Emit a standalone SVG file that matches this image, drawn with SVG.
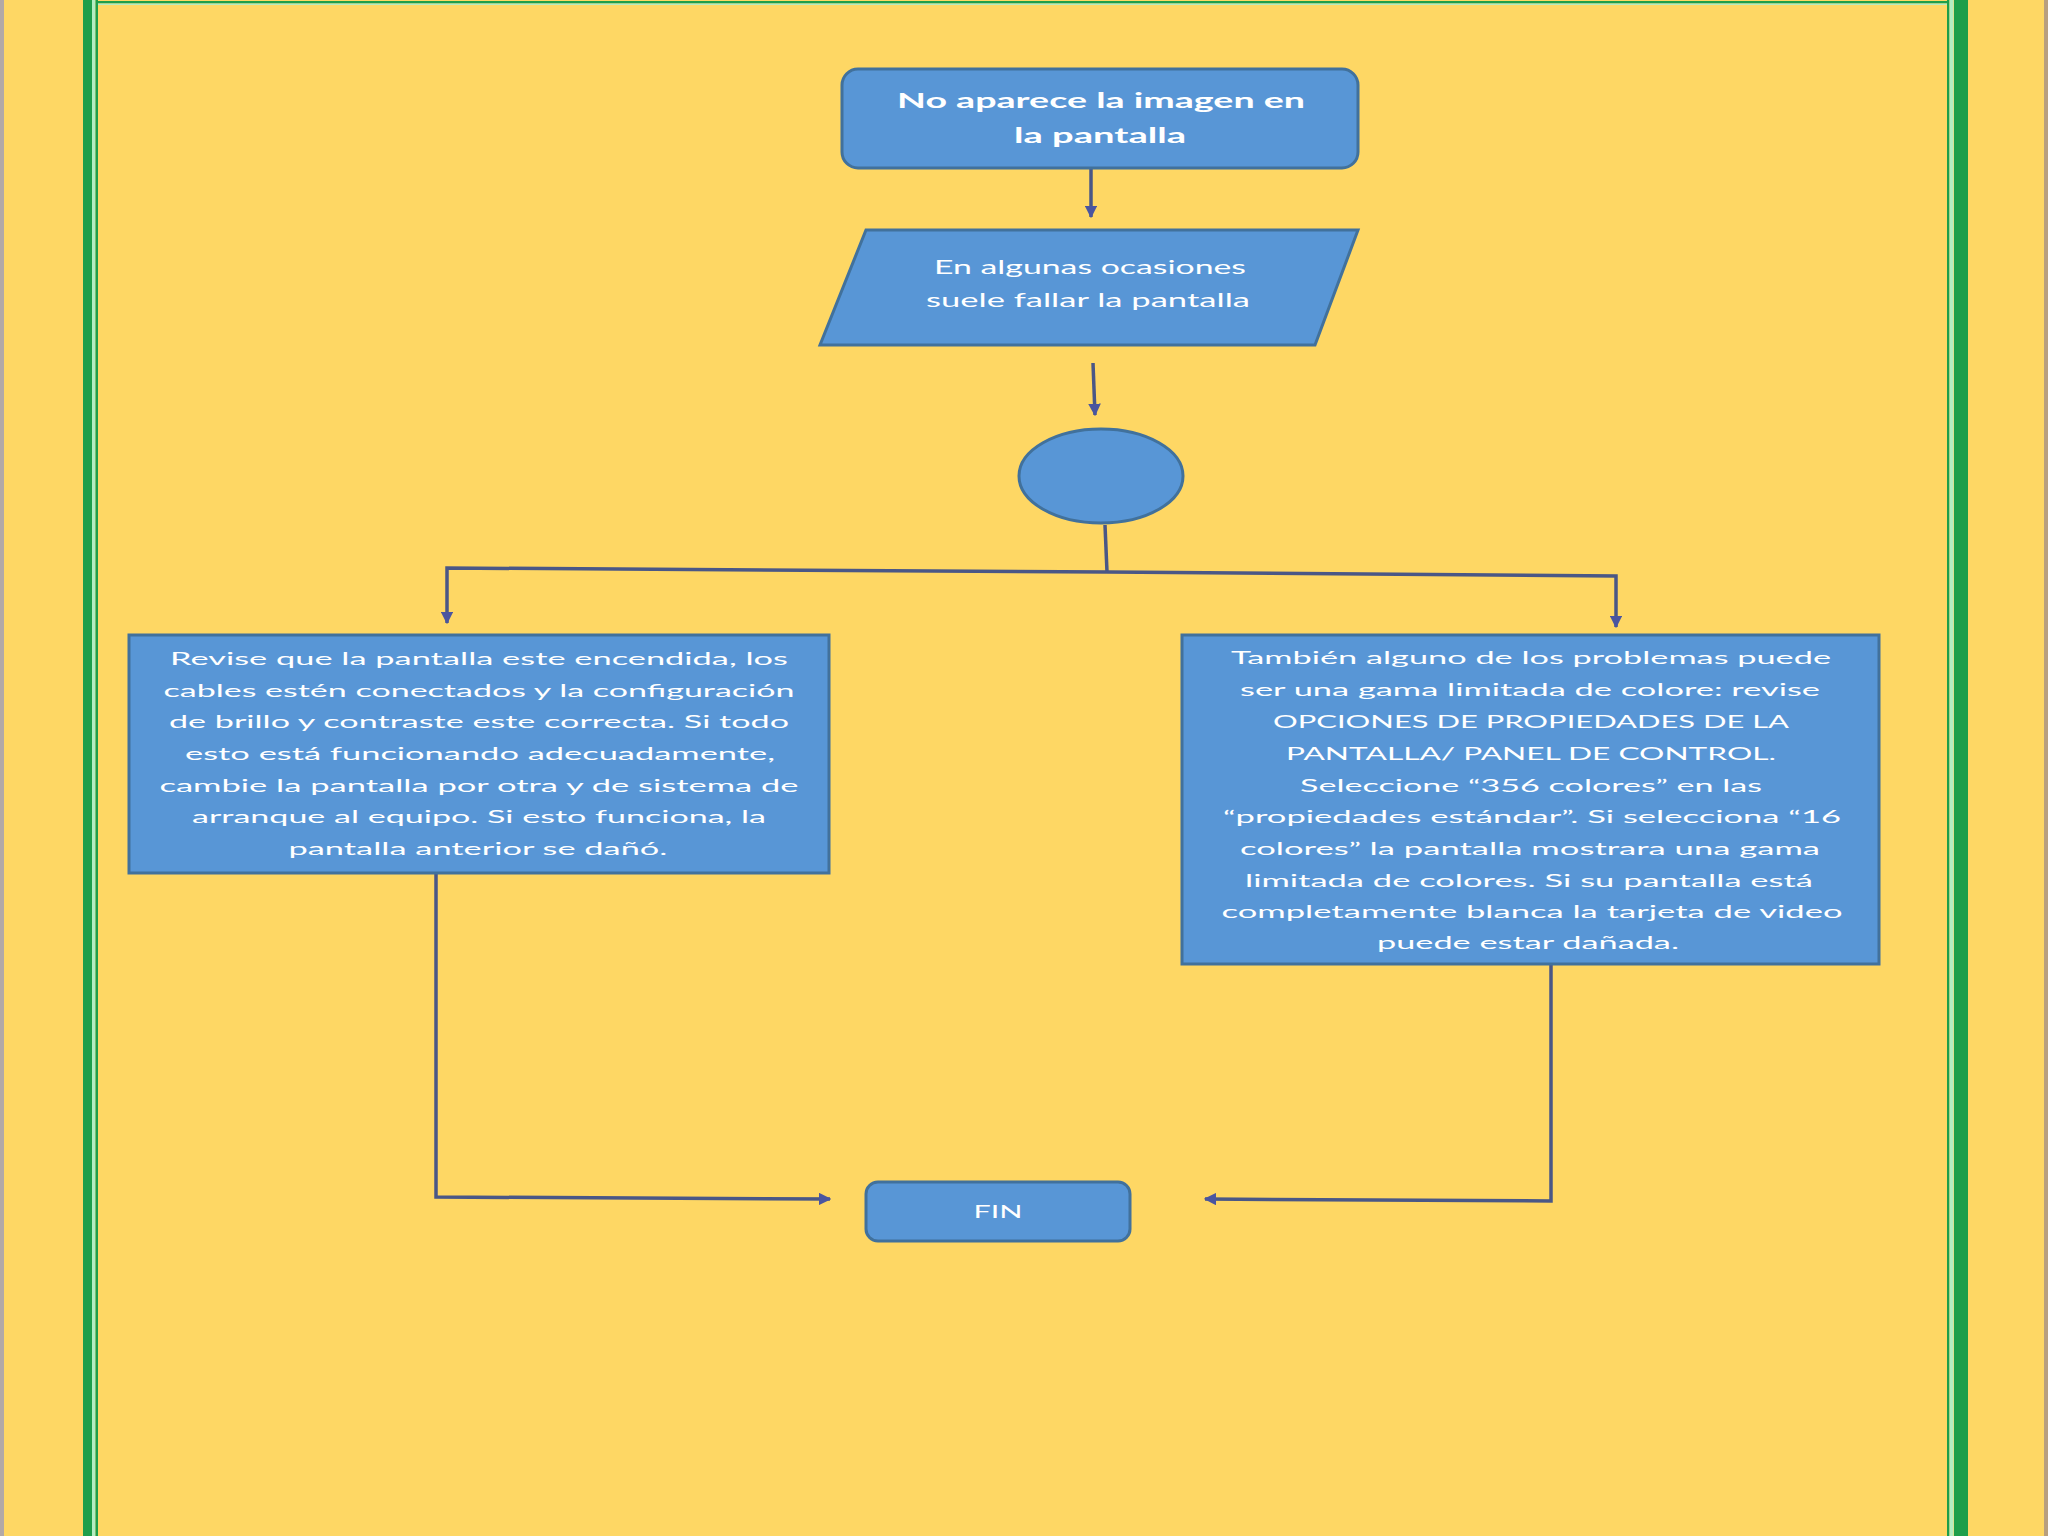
<svg xmlns="http://www.w3.org/2000/svg" width="2048" height="1536" viewBox="0 0 2048 1536">
<defs>
<style>
.node{fill:#5896d6;stroke:#41719c;stroke-width:3}
.conn{fill:none;stroke:#4a5786;stroke-width:3.5}
.t{font-family:Lato,'Liberation Sans',sans-serif;fill:#ffffff;text-anchor:middle}
.tb{font-weight:bold;font-size:21px}
.tp{font-size:20px}
.tx{font-size:17.5px}
.green{fill:#1e9e4a}
.pale{fill:#b4ecc2}
</style>
<marker id="ah" viewBox="0 0 10 10" refX="9" refY="5" markerWidth="3.6" markerHeight="3.6" orient="auto" markerUnits="strokeWidth">
<path d="M0,0 L10,5 L0,10 z" fill="#4a55a0"/>
</marker>
</defs>
<g id="background">
<rect x="0" y="0" width="2048" height="1536" fill="#fed764"/>
<rect x="0" y="0" width="4" height="1536" fill="#b3a9a6"/>
<rect x="2044" y="0" width="4" height="1536" fill="#b89f7e"/>
<rect class="green" x="83" y="0" width="9" height="1536"/>
<rect class="pale" x="92" y="0" width="3.5" height="1536"/>
<rect class="green" x="95.5" y="0" width="2.5" height="1536"/>
<rect class="green" x="1947" y="0" width="2.5" height="1536"/>
<rect class="pale" x="1949.5" y="0" width="4" height="1536"/>
<rect class="green" x="1954" y="0" width="14" height="1536"/>
<rect class="green" x="96" y="1" width="1853" height="2.5"/>
<rect class="pale" x="98" y="3.5" width="1849" height="1.5"/>
</g>
<g id="connectors">
<line class="conn" x1="1091" y1="168" x2="1091" y2="217" marker-end="url(#ah)"/>
<line class="conn" x1="1093" y1="363" x2="1095" y2="415" marker-end="url(#ah)"/>
<polyline class="conn" points="1105,525 1107,572"/>
<polyline class="conn" points="1107,572 447,568 447,623" marker-end="url(#ah)"/>
<polyline class="conn" points="1107,572 1616,576 1616,627" marker-end="url(#ah)"/>
<polyline class="conn" points="436,872 436,1197 830,1199" marker-end="url(#ah)"/>
<polyline class="conn" points="1551,964 1551,1201 1205,1199" marker-end="url(#ah)"/>
</g>
<g id="node-inicio">
<rect class="node" x="842" y="69" width="516" height="99" rx="16"/>
<text class="t tb" x="1101" y="108" textLength="408" lengthAdjust="spacingAndGlyphs">No aparece la imagen en</text>
<text class="t tb" x="1100" y="143" textLength="172" lengthAdjust="spacingAndGlyphs">la pantalla</text>
</g>
<g id="node-datos">
<polygon class="node" points="866,230 1358,230 1315,345 820,345"/>
<text class="t tp" x="1090" y="274" textLength="312" lengthAdjust="spacingAndGlyphs">En algunas ocasiones</text>
<text class="t tp" x="1088" y="307" textLength="324" lengthAdjust="spacingAndGlyphs">suele fallar la pantalla</text>
</g>
<g id="node-conector">
<ellipse class="node" cx="1101" cy="476" rx="82" ry="47"/>
</g>
<g id="node-izquierda">
<rect class="node" x="129" y="635" width="700" height="238"/>
<text class="t tx" x="479" y="665" textLength="618" lengthAdjust="spacingAndGlyphs">Revise que la pantalla este encendida, los</text>
<text class="t tx" x="479" y="697" textLength="631" lengthAdjust="spacingAndGlyphs">cables estén conectados y la configuración</text>
<text class="t tx" x="479" y="728" textLength="620" lengthAdjust="spacingAndGlyphs">de brillo y contraste este correcta. Si todo</text>
<text class="t tx" x="480" y="760" textLength="590" lengthAdjust="spacingAndGlyphs">esto está funcionando adecuadamente,</text>
<text class="t tx" x="479" y="792" textLength="639" lengthAdjust="spacingAndGlyphs">cambie la pantalla por otra y de sistema de</text>
<text class="t tx" x="479" y="823" textLength="574" lengthAdjust="spacingAndGlyphs">arranque al equipo. Si esto funciona, la</text>
<text class="t tx" x="478" y="855" textLength="379" lengthAdjust="spacingAndGlyphs">pantalla anterior se dañó.</text>
</g>
<g id="node-derecha">
<rect class="node" x="1182" y="635" width="697" height="329"/>
<text class="t tx" x="1531" y="664" textLength="600" lengthAdjust="spacingAndGlyphs">También alguno de los problemas puede</text>
<text class="t tx" x="1530" y="696" textLength="580" lengthAdjust="spacingAndGlyphs">ser una gama limitada de colore: revise</text>
<text class="t tx" x="1531" y="728" textLength="516" lengthAdjust="spacingAndGlyphs">OPCIONES DE PROPIEDADES DE LA</text>
<text class="t tx" x="1531" y="760" textLength="490" lengthAdjust="spacingAndGlyphs">PANTALLA/ PANEL DE CONTROL.</text>
<text class="t tx" x="1531" y="792" textLength="462" lengthAdjust="spacingAndGlyphs">Seleccione “356 colores” en las</text>
<text class="t tx" x="1532" y="823" textLength="618" lengthAdjust="spacingAndGlyphs">“propiedades estándar”. Si selecciona “16</text>
<text class="t tx" x="1530" y="855" textLength="580" lengthAdjust="spacingAndGlyphs">colores” la pantalla mostrara una gama</text>
<text class="t tx" x="1529" y="887" textLength="568" lengthAdjust="spacingAndGlyphs">limitada de colores. Si su pantalla está</text>
<text class="t tx" x="1532" y="918" textLength="621" lengthAdjust="spacingAndGlyphs">completamente blanca la tarjeta de video</text>
<text class="t tx" x="1528" y="949" textLength="302" lengthAdjust="spacingAndGlyphs">puede estar dañada.</text>
</g>
<g id="node-fin">
<rect class="node" x="866" y="1182" width="264" height="59" rx="12"/>
<text class="t" x="998" y="1218" font-size="18" textLength="49" lengthAdjust="spacingAndGlyphs">FIN</text>
</g>
</svg>
